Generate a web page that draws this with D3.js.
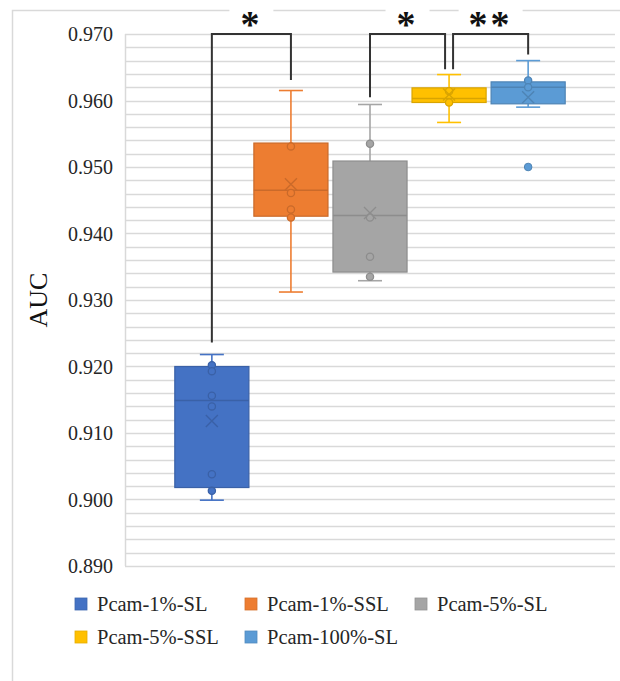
<!DOCTYPE html>
<html>
<head>
<meta charset="utf-8">
<script src="https://cdn.jsdelivr.net/npm/d3@7"></script>
<style>
  body { margin: 0; background: #fff; }
  svg { display: block; }
  svg text { font-family: "Liberation Serif", "DejaVu Serif", "Times New Roman", serif; }
</style>
</head>
<body>
<svg id="chart" width="620" height="681"></svg>
<script>
const seriesNames = ["Pcam-1%-SL", "Pcam-1%-SSL", "Pcam-5%-SL", "Pcam-5%-SSL", "Pcam-100%-SL"];
const seriesColors = ["#4472C4", "#ED7D31", "#A5A5A5", "#FFC000", "#5B9BD5"];
const whiskerLow = [0.8999, 0.9312, 0.9329, 0.9567, 0.9590];
const q1 = [0.9018, 0.9426, 0.9342, 0.9597, 0.9595];
const median = [0.9149, 0.9465, 0.9427, 0.9603, 0.9620];
const q3 = [0.9200, 0.9536, 0.9509, 0.9619, 0.9628];
const whiskerHigh = [0.9218, 0.9615, 0.9594, 0.9639, 0.9660];
const means = [0.9118, 0.9474, 0.9431, 0.9609, 0.9605];
const innerPoints = [
  [0.9202, 0.9193, 0.9156, 0.9140, 0.9038, 0.9013],
  [0.9531, 0.9461, 0.9436, 0.9424],
  [0.9535, 0.9424, 0.9365, 0.9335],
  [0.9614, 0.9597],
  [0.9630, 0.9620]
];
const outliers = [[], [], [], [], [0.9500]];
const yTicks = [0.890, 0.900, 0.910, 0.920, 0.930, 0.940, 0.950, 0.960, 0.970];

// significance brackets
const bracketFrom = [0, 2, 3];
const bracketTo = [1, 3, 4];
const bracketFromEnd = [0.9236, 0.9605, 0.9647];
const bracketToEnd = [0.9631, 0.9647, 0.9669];
const bracketLabels = ["*", "*", "**"];

const svg = d3.select("#chart");
const width = +svg.attr("width");
const height = +svg.attr("height");
const margin = { top: 34, right: 5, bottom: 115, left: 125 };

// chart frame (runs off the right and bottom edges)
svg.append("rect")
  .attr("x", 12.5).attr("y", 10.5)
  .attr("width", width).attr("height", height)
  .attr("fill", "#fff")
  .attr("stroke", "#d9d9d9")
  .attr("stroke-width", 1.5);

const y = d3.scaleLinear()
  .domain([0.890, 0.970])
  .range([height - margin.bottom, margin.top]);

const x = d3.scaleBand()
  .domain(seriesNames)
  .range([margin.left, width - margin.right])
  .paddingInner(0.063)
  .paddingOuter(0.63);

// gridlines, every 0.002
const grid = svg.append("g").attr("class", "grid");
grid.selectAll("line")
  .data(d3.range(0, 41).map((i) => 0.890 + i * 0.002))
  .enter()
  .append("line")
  .attr("x1", margin.left)
  .attr("x2", width - margin.right)
  .attr("y1", (d) => Math.round(y(d)) + 0.5)
  .attr("y2", (d) => Math.round(y(d)) + 0.5)
  .style("stroke", "#d9d9d9")
  .style("stroke-width", 1.5);

grid.append("line")
  .attr("x1", margin.left + 0.5).attr("x2", margin.left + 0.5)
  .attr("y1", y(0.970)).attr("y2", y(0.890))
  .style("stroke", "#d9d9d9")
  .style("stroke-width", 1.5);

// y axis labels
svg.append("g")
  .selectAll("text")
  .data(yTicks)
  .enter()
  .append("text")
  .attr("x", margin.left - 12)
  .attr("y", (d) => y(d))
  .attr("dy", "0.35em")
  .attr("text-anchor", "end")
  .style("font-size", "20px")
  .style("fill", "#262626")
  .text((d) => d3.format(".3f")(d));

svg.append("text")
  .attr("transform", `translate(38, ${y(0.930)}) rotate(-90)`)
  .attr("text-anchor", "middle")
  .attr("dy", "0.35em")
  .style("font-size", "26px")
  .style("fill", "#111")
  .text("AUC");

// boxes
const capW = 24;
const boxes = svg.append("g")
  .selectAll(".box")
  .data(seriesNames)
  .enter()
  .append("g")
  .attr("class", "box");

boxes.each(function (name, i) {
  const g = d3.select(this);
  const c = seriesColors[i];
  const dark = d3.color(c).darker(0.45).formatHex();
  const cx = x(name) + x.bandwidth() / 2;
  const x0 = x(name);
  const bw = x.bandwidth();

  // whiskers
  [[whiskerLow[i], q1[i]], [q3[i], whiskerHigh[i]]].forEach(([a, b]) => {
    g.append("line")
      .attr("x1", cx).attr("x2", cx)
      .attr("y1", y(a)).attr("y2", y(b))
      .style("stroke", c).style("stroke-width", 1.6);
  });
  [whiskerLow[i], whiskerHigh[i]].forEach((v) => {
    g.append("line")
      .attr("x1", cx - capW / 2).attr("x2", cx + capW / 2)
      .attr("y1", y(v)).attr("y2", y(v))
      .style("stroke", c).style("stroke-width", 1.6);
  });

  g.append("rect")
    .attr("x", x0)
    .attr("y", y(q3[i]))
    .attr("width", bw)
    .attr("height", y(q1[i]) - y(q3[i]))
    .style("fill", c)
    .style("stroke", dark)
    .style("stroke-width", 1.2);

  g.append("line")
    .attr("x1", x0).attr("x2", x0 + bw)
    .attr("y1", y(median[i])).attr("y2", y(median[i]))
    .style("stroke", dark).style("stroke-width", 1.5);

  // inner points
  g.selectAll(".pt")
    .data(innerPoints[i])
    .enter()
    .append("circle")
    .attr("cx", cx)
    .attr("cy", (d) => y(d))
    .attr("r", 3.6)
    .style("fill", c)
    .style("stroke", dark)
    .style("stroke-width", 1.3);

  g.selectAll(".out")
    .data(outliers[i])
    .enter()
    .append("circle")
    .attr("cx", cx)
    .attr("cy", (d) => y(d))
    .attr("r", 3.8)
    .style("fill", c)
    .style("stroke", dark)
    .style("stroke-width", 1);

  // mean marker
  const m = 6;
  const my = y(means[i]);
  g.append("path")
    .attr("d", `M${cx - m},${my - m}L${cx + m},${my + m}M${cx - m},${my + m}L${cx + m},${my - m}`)
    .style("stroke", dark)
    .style("stroke-width", 1.4)
    .style("fill", "none");
});

// brackets
const centerOf = (i) => x(seriesNames[i]) + x.bandwidth() / 2;
const bracketShift = [[0, 0], [0, -4], [4, 0]];
const br = svg.append("g");
bracketLabels.forEach((label, k) => {
  const xa = centerOf(bracketFrom[k]) + bracketShift[k][0];
  const xb = centerOf(bracketTo[k]) + bracketShift[k][1];
  const top = y(0.970);
  br.append("path")
    .attr("d", `M${xa},${y(bracketFromEnd[k])}V${top}H${xb}V${y(bracketToEnd[k])}`)
    .style("fill", "none")
    .style("stroke", "#333")
    .style("stroke-width", 2);

  const mid = (xa + xb) / 2;
  br.append("rect")
    .attr("x", mid - 12 - label.length * 10)
    .attr("y", 4)
    .attr("width", 24 + label.length * 20)
    .attr("height", 22)
    .style("fill", "#fff");
  br.append("text")
    .attr("x", mid)
    .attr("y", 37)
    .attr("text-anchor", "middle")
    .style("font-weight", "bold")
    .style("font-size", "38px")
    .style("letter-spacing", "3px")
    .style("fill", "#111")
    .text(label);
});

// legend
const legend = svg.append("g")
  .selectAll(".legend")
  .data(seriesNames)
  .enter()
  .append("g")
  .attr("class", "legend")
  .attr("transform", (d, i) => `translate(${75 + (i % 3) * 170}, ${604 + Math.floor(i / 3) * 33})`);

legend.append("rect")
  .attr("x", 0).attr("y", -6)
  .attr("width", 12).attr("height", 12)
  .style("fill", (d, i) => seriesColors[i])
  .style("stroke", (d, i) => d3.color(seriesColors[i]).darker(0.3).formatHex())
  .style("stroke-width", 0.8);

legend.append("text")
  .attr("x", 22)
  .attr("y", 0)
  .attr("dy", "0.35em")
  .style("font-size", "20.5px")
  .style("fill", "#262626")
  .text((d) => d);
</script>
</body>
</html>
